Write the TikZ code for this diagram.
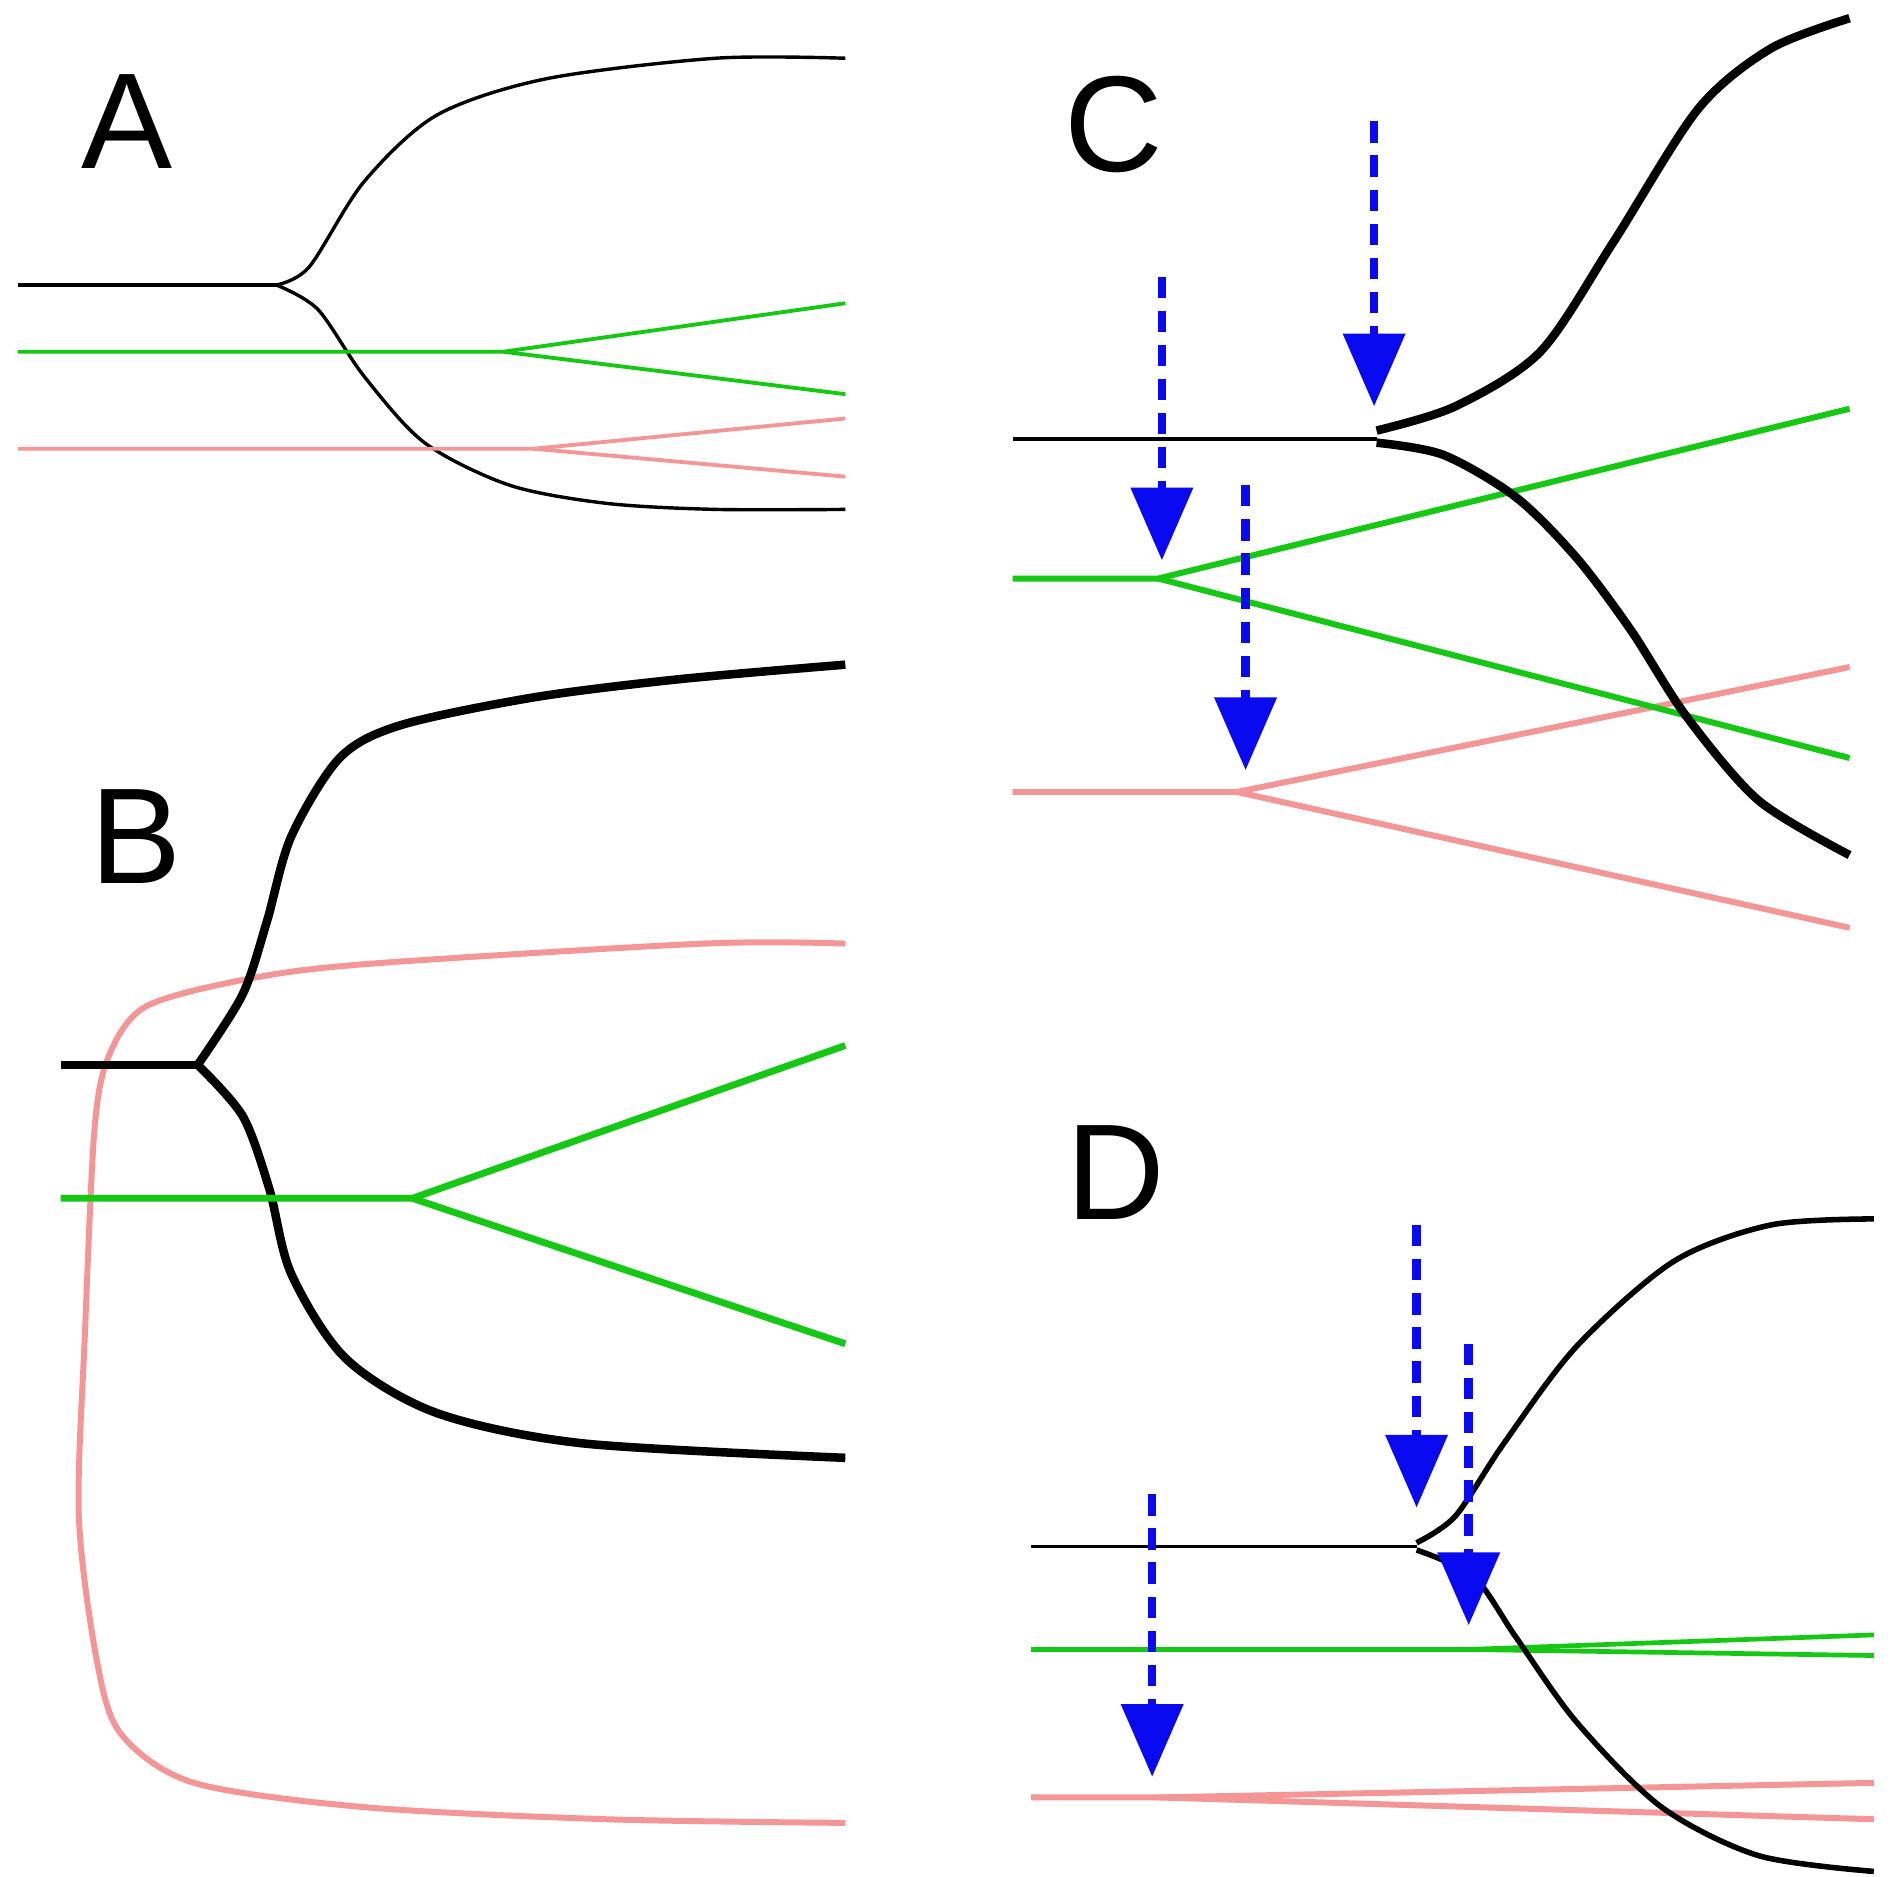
\documentclass[tikz,border=0pt]{standalone}
\usepackage{fontspec}
\setmainfont{Liberation Sans}
\usetikzlibrary{arrows.meta}
\definecolor{gr}{RGB}{20,200,20}
\definecolor{pk}{RGB}{245,150,150}
\definecolor{bl}{RGB}{10,10,240}
\begin{document}
\begin{tikzpicture}[x=0.01cm,y=-0.01cm,
  thinb/.style={black,line width=0.8pt},
  thickb/.style={black,line width=2pt},
  grl/.style={gr,line width=#1},
  pkl/.style={pk,line width=#1},
  arr/.style={bl,line width=2pt,dash pattern=on 5pt off 3pt,-{Triangle[width=0.5cm,length=0.6cm]}},
  lab/.style={font=\fontsize{32}{32}\selectfont}]
\fill[white] (0,0) rectangle (1560,1547);
% A
\node[lab] (la) at (105,100) {A};
\draw[thinb] (15,235) -- (228,235);
\draw[thinb] plot[smooth,tension=0.5] coordinates {(228,235)(255,220)(300,150)(360,95)(450,65)(590,48)(697,48)};
\draw[thinb] plot[smooth,tension=0.5] coordinates {(228,235)(262,255)(300,310)(350,365)(420,400)(500,415)(590,420)(697,420)};
\draw[grl=0.9pt] (15,290) -- (415,290) -- (697,250);
\draw[grl=0.9pt] (415,290) -- (697,325);
\draw[pkl=0.9pt] (15,370) -- (440,370) -- (697,345);
\draw[pkl=0.9pt] (440,370) -- (697,393);
% B
\node[lab] (lb) at (112,690) {B};
\draw[pkl=1.4pt] plot[smooth,tension=0.5] coordinates {(697,778)(580,778)(300,795)(200,808)(120,830)(90,870)(78,930)(70,1100)(65,1250)(80,1370)(100,1430)(160,1470)(300,1490)(500,1500)(697,1503)};
\draw[thickb] (50,878) -- (163,878);
\draw[thickb] plot[smooth,tension=0.5] coordinates {(163,878)(200,820)(220,760)(240,690)(280,625)(330,598)(440,575)(560,560)(697,548)};
\draw[thickb] plot[smooth,tension=0.5] coordinates {(163,878)(200,920)(222,980)(240,1050)(285,1120)(360,1165)(480,1190)(697,1202)};
\draw[grl=1.6pt] (50,988) -- (340,988) -- (697,862);
\draw[grl=1.6pt] (340,988) -- (697,1108);
% C
\node[lab] (lc) at (918,103) {C};
\draw[pkl=1.4pt] (835,653) -- (1020,653) -- (1525,550);
\draw[pkl=1.4pt] (1020,653) -- (1525,765);
\draw[grl=1.4pt] (835,477) -- (955,477) -- (1525,337);
\draw[grl=1.4pt] (955,477) -- (1525,625);
\draw[thinb] (835,362) -- (1135,362);
\draw[thickb] plot[smooth,tension=0.5] coordinates {(1135,355)(1200,335)(1270,290)(1330,200)(1400,90)(1460,40)(1525,15)};
\draw[thickb] plot[smooth,tension=0.5] coordinates {(1135,365)(1190,375)(1250,410)(1300,460)(1345,520)(1390,590)(1450,660)(1525,705)};
\coordinate (c1s) at (1133,100); \coordinate (c1e) at (1133,335);
\coordinate (c2s) at (958,228); \coordinate (c2e) at (958,462);
\coordinate (c3s) at (1027,400); \coordinate (c3e) at (1027,635);
\draw[arr] (c1s) -- (c1e);
\draw[arr] (c2s) -- (c2e);
\draw[arr] (c3s) -- (c3e);
% D
\node[lab] (ld) at (920,967) {D};
\draw[pkl=1.4pt] (850,1482) -- (955,1482) -- (1545,1470);
\draw[pkl=1.4pt] (955,1482) -- (1545,1500);
\draw[grl=1.1pt] (850,1360) -- (1210,1360) -- (1545,1348);
\draw[grl=1.1pt] (1210,1360) -- (1545,1365);
\draw[thinb] (850,1275) -- (1168,1275);
\draw[black,line width=1.3pt] plot[smooth,tension=0.5] coordinates {(1168,1272)(1200,1250)(1240,1190)(1300,1110)(1380,1040)(1460,1010)(1545,1005)};
\draw[black,line width=1.3pt] plot[smooth,tension=0.5] coordinates {(1168,1278)(1215,1300)(1250,1350)(1300,1420)(1370,1490)(1450,1530)(1545,1543)};
\coordinate (d1s) at (1168,1010); \coordinate (d1e) at (1168,1243);
\coordinate (d2s) at (1211,1108); \coordinate (d2e) at (1211,1340);
\coordinate (d3s) at (950,1232); \coordinate (d3e) at (950,1465);
\draw[arr] (d1s) -- (d1e);
\draw[arr] (d2s) -- (d2e);
\draw[arr] (d3s) -- (d3e);
\end{tikzpicture}
\end{document}
